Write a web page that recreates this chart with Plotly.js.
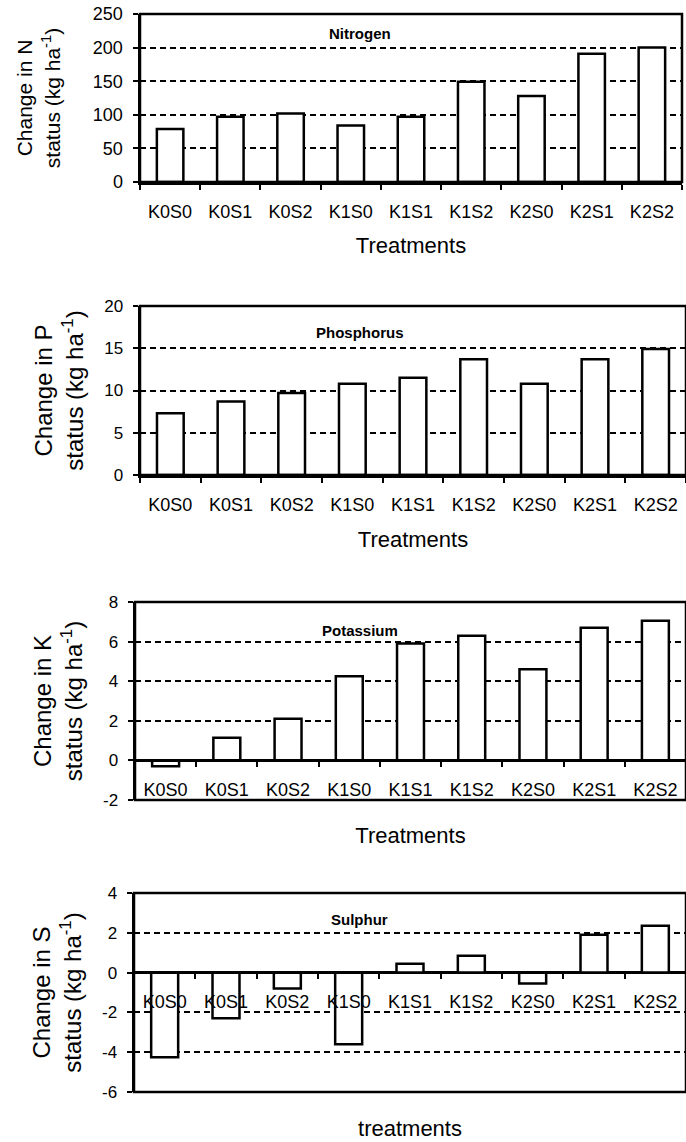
<!DOCTYPE html>
<html>
<head>
<meta charset="utf-8">
<script src="https://cdn.plot.ly/plotly-3.0.1.min.js"></script>
<style>html,body{margin:0;padding:0;background:#fff;}#chart{width:686px;height:1142px;}</style>
</head>
<body>
<div id="chart"></div>
<script>
// ---- data ----
var treatments = ["K0S0","K0S1","K0S2","K1S0","K1S1","K1S2","K2S0","K2S1","K2S2"];
var nitrogen   = [79, 97, 102, 84, 97, 149, 128, 191, 200];
var phosphorus = [7.3, 8.7, 9.7, 10.8, 11.5, 13.7, 10.8, 13.7, 14.9];
var potassium  = [-0.3, 1.15, 2.1, 4.25, 5.9, 6.3, 4.6, 6.7, 7.05];
var sulphur    = [-4.25, -2.3, -0.8, -3.6, 0.45, 0.85, -0.55, 1.9, 2.35];
var panelNames = ["Nitrogen","Phosphorus","Potassium","Sulphur"];
var yTitles = ["Change in N<br>status (kg ha<sup>-1</sup>)","Change in P<br>status (kg ha<sup>-1</sup>)",
               "Change in K<br>status (kg ha<sup>-1</sup>)","Change in S<br>status (kg ha<sup>-1</sup>)"];
var xTitles = ["Treatments","Treatments","Treatments","treatments"];
var yTickVals = [[0,50,100,150,200,250],[0,5,10,15,20],[-2,0,2,4,6,8],[-6,-4,-2,0,2,4]];
var yTickText = [["0","50","100","150","200","250"],["0","5","10","15","20"],
                 ["-2","0","2","4","6","8"],["-6","-4","-2","0","2","4"]];

// ---- geometry (pixel positions in 686x1142 page) ----
var W = 686, H = 1142;
var panels = [
  {left:140, right:682, top:14,  bottom:182,  ytStand:27, ytSize:21, tkSize:18, xtStand:17, nameY:33},
  {left:140, right:690, top:306, bottom:475,  ytStand:14, ytSize:24, tkSize:17, xtStand:18, nameY:333},
  {left:135, right:690, top:602, bottom:800,  ytStand:14, ytSize:24, tkSize:17, xtStand:28, nameY:630},
  {left:134, right:690, top:893, bottom:1092, ytStand:14, ytSize:24, tkSize:17, xtStand:109, nameY:919}
];
var series = [nitrogen, phosphorus, potassium, sulphur];
var FONT = "Liberation Sans, Arial, sans-serif";

var data = [], layout = {
  width: W, height: H, margin:{l:0,r:0,t:0,b:0},
  paper_bgcolor:"#fff", plot_bgcolor:"#fff", showlegend:false,
  font:{family:FONT, color:"#000", size:17},
  shapes:[], annotations:[]
};

for (var i=0;i<4;i++){
  var p = panels[i], n = i+1;
  var xa = "x"+(n===1?"":n), ya = "y"+(n===1?"":n);
  var tv = yTickVals[i];
  var r = [tv[0], tv[tv.length-1]];
  data.push({type:"bar", x:treatments, y:series[i], xaxis:xa, yaxis:ya, width:0.44,
    marker:{color:"#fff", line:{color:"#000", width:2.5}}, hoverinfo:"x+y"});
  var yd = [1-p.bottom/H, 1-p.top/H];
  var xd = [p.left/W, Math.min(1, p.right/W)];
  var zeroPos = yd[0] + (0 - r[0])/(r[1]-r[0])*(yd[1]-yd[0]);
  var xaxis = {
    domain:xd, range:[-0.5, 8.5], type:"category",
    showline:true, linecolor:"#000", linewidth:2.5,
    ticks:"outside", tickson:"boundaries", ticklen:5, tickwidth:2, tickcolor:"#000",
    ticklabelstandoff:12, tickfont:{family:FONT, size:18, color:"#000"},
    showgrid:false, zeroline:false, fixedrange:true,
    title:{text:xTitles[i], font:{family:FONT, size:22, color:"#000"}, standoff:p.xtStand}
  };
  if (r[0] < 0){ xaxis.anchor = "free"; xaxis.position = zeroPos; }
  else { xaxis.anchor = ya; }
  var yaxis = {
    domain:yd, range:r, tickmode:"array", tickvals:tv, ticktext:yTickText[i], anchor:xa,
    showline:true, linecolor:"#000", linewidth:2.5,
    ticks:"outside", ticklen:5, tickwidth:2, tickcolor:"#000",
    ticklabelstandoff:6, tickfont:{family:FONT, size:p.tkSize, color:"#000"},
    showgrid:true, gridcolor:"#000", gridwidth:2, griddash:"6px,4px",
    zeroline:true, zerolinecolor:"#000", zerolinewidth:2.5, fixedrange:true,
    title:{text:yTitles[i], font:{family:FONT, size:p.ytSize, color:"#000"}, standoff:p.ytStand}
  };
  layout["xaxis"+(n===1?"":n)] = xaxis;
  layout["yaxis"+(n===1?"":n)] = yaxis;
  layout.shapes.push({type:"rect", xref:xa+" domain", yref:ya+" domain", x0:0, x1:1, y0:0, y1:1,
    line:{color:"#000", width:2.5}, fillcolor:"rgba(0,0,0,0)", layer:"above"});
  layout.annotations.push({text:panelNames[i], xref:"paper", yref:"paper",
    x:360/W, y:1-p.nameY/H, xanchor:"center", yanchor:"middle", showarrow:false,
    font:{family:FONT, size:15, color:"#000", weight:"bold"}});
}
Plotly.newPlot("chart", data, layout, {staticPlot:true});
</script>
</body>
</html>
